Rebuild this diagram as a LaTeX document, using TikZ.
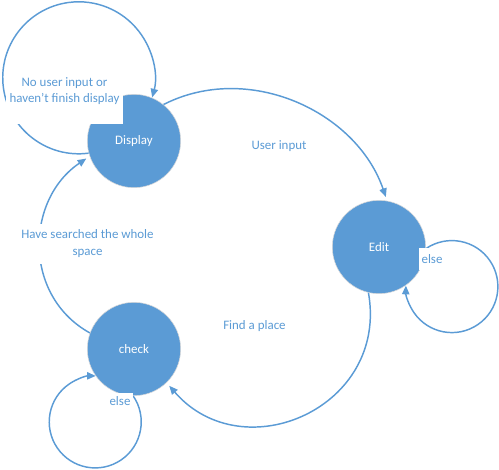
\documentclass[tikz,border=0pt]{standalone}
\usepackage{fontspec}
\setmainfont{Carlito}
\usetikzlibrary{arrows.meta}
\definecolor{stateblue}{HTML}{5B9BD5}
\begin{document}
\begin{tikzpicture}[x=0.75pt, y=0.75pt,
	every node/.style = {font=\fontsize{9.7pt}{12.2pt}\selectfont},
	state/.style = {shape=circle, fill=stateblue, draw=black!15, line width=0.4pt, minimum size=70pt, text=white},
	tag/.style = {fill=white, text=stateblue, align=center, inner sep=0pt},
	trans/.style = {draw=stateblue, line width=1.1pt, -{Triangle[length=6.5pt, width=5.5pt]}}]
	
	\useasboundingbox (0,0) rectangle (499,469);
	
	\node[state] (disp) at (134,328) {Display};
	\node[state] (edit) at (379,222) {Edit};
	\node[state] (check) at (134,120) {check};
	
	\draw[trans] (disp.195) arc[start angle=-82.5, end angle=-375, radius=76];
	\draw[trans] (edit.-2) arc[start angle=124.4, end angle=-181.2, radius=46];
	\draw[trans] (check.-91) arc[start angle=34.4, end angle=-270.6, radius=46];
	\draw[trans, shorten >=3pt] (disp.51) to[out=27, in=109] (edit.80);
	\draw[trans, shorten >=3pt] (edit.-103) to[out=-80, in=-49, looseness=1.35] (check.-46);
	\draw[trans, shorten >=3pt] (check.160) to[out=151, in=214, looseness=1.12] (disp.199);
	
	\node[tag, minimum width=87.75pt, minimum height=49.5pt] (waitlbl) at (64.5,378) {No user input or\\haven't finish display};
	\node[tag, minimum width=19.5pt, minimum height=16.5pt] (editelse) at (432,210) {else};
	\node[tag, minimum width=19.5pt, minimum height=12.75pt] (checkelse) at (120,68) {else};
	\node[tag] (inputlbl) at (279,323) {User input};
	\node[tag] (foundlbl) at (254.5,143) {Find a place};
	\node[tag, minimum width=108.75pt, minimum height=30pt] (searchlbl) at (87.5,225.5) {Have searched the whole\\space};
\end{tikzpicture}
\end{document}
